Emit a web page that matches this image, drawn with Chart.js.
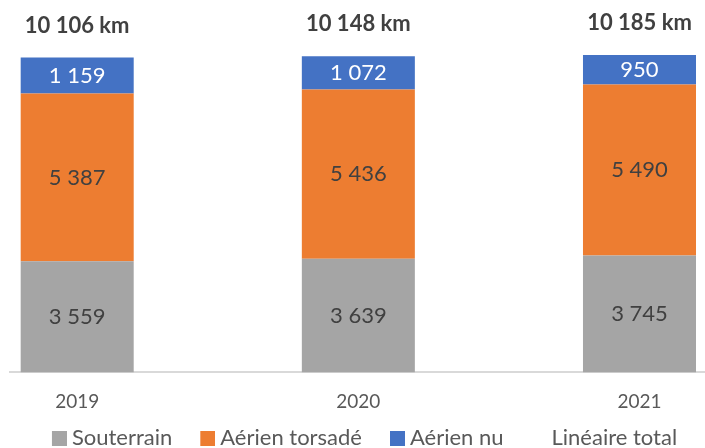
<!DOCTYPE html>
<html>
<head>
<meta charset="utf-8">
<script src="https://cdn.jsdelivr.net/npm/chart.js@4"></script>
<style>
  html, body { margin: 0; padding: 0; background: #fff; }
</style>
</head>
<body>
<canvas id="chart" width="705" height="448"></canvas>
<script>
const years = ['2019', '2020', '2021'];
const souterrain = [3559, 3639, 3745];
const aerienTorsade = [5387, 5436, 5490];
const aerienNu = [1159, 1072, 950];
const lineaireTotal = [10106, 10148, 10185];

const GRAY = '#A5A5A5', ORANGE = '#ED7D31', BLUE = '#4472C4';
const FONT = 'Lato, "Open Sans", sans-serif';
const TICK_PAD = 18;

// x range in category units, so the bars sit where the cropped excel chart had them
const X_MIN = -0.239, X_MAX = 2.233;

const fmt = (v) => String(v).replace(/\B(?=(\d{3})+(?!\d))/g, ' ');

function swatch(color) {
  const c = document.createElement('canvas');
  c.width = 35;
  c.height = 15;
  if (color) {
    const g = c.getContext('2d');
    g.fillStyle = color;
    g.fillRect(20, 0, 15, 15);
  }
  return c;
}
const swatches = [swatch(GRAY), swatch(ORANGE), swatch(BLUE), swatch(null)];

const barLabels = {
  id: 'barLabels',
  afterDatasetsDraw(chart) {
    const ctx = chart.ctx;
    ctx.save();
    ctx.textAlign = 'center';
    ctx.textBaseline = 'middle';
    chart.data.datasets.forEach((ds, i) => {
      const meta = chart.getDatasetMeta(i);
      meta.data.forEach((el, j) => {
        const v = ds.data[j];
        if (ds.type === 'line') {
          ctx.font = 'bold 22px ' + FONT;
          ctx.fillStyle = '#404040';
          ctx.fillText(fmt(v) + ' km', el.x, el.y - 32);
        } else {
          const p = el.getCenterPoint();
          ctx.font = '22px ' + FONT;
          ctx.fillStyle = ds.labelColor;
          ctx.fillText(fmt(v), p.x, p.y);
        }
      });
    });
    ctx.restore();
  },
};

new Chart(document.getElementById('chart'), {
  type: 'bar',
  data: {
    labels: years,
    datasets: [
      { label: 'Souterrain', data: souterrain, backgroundColor: GRAY, labelColor: '#404040', stack: 'bars' },
      { label: 'Aérien torsadé', data: aerienTorsade, backgroundColor: ORANGE, labelColor: '#404040', stack: 'bars' },
      { label: 'Aérien nu', data: aerienNu, backgroundColor: BLUE, labelColor: '#ffffff', stack: 'bars' },
      {
        type: 'line', label: 'Linéaire total', data: lineaireTotal, stack: 'total',
        borderColor: 'transparent', backgroundColor: 'transparent', pointRadius: 0, showLine: false,
      },
    ],
  },
  options: {
    responsive: false,
    animation: false,
    devicePixelRatio: 1,
    layout: { padding: { left: 10, right: 0, top: 0, bottom: -11 } },
    datasets: { bar: { categoryPercentage: 0.402, barPercentage: 1, clip: false } },
    scales: {
      x: {
        stacked: true,
        offset: false,
        grid: { display: false, drawTicks: false },
        border: { display: true, color: '#D9D9D9', width: 2 },
        ticks: { color: '#595959', font: { family: FONT, size: 19 }, padding: TICK_PAD, autoSkip: false, maxRotation: 0 },
        afterDataLimits: (s) => { s.min = X_MIN; s.max = X_MAX; },
        afterBuildTicks: (s) => {
          s.ticks = years.map((_, i) => ({ value: i }));
          s._startValue = X_MIN;
          s._valueRange = X_MAX - X_MIN;
        },
        // chart.js counts the tick padding twice under the labels; keep it only above them
        afterFit: (s) => { s.height -= TICK_PAD; },
      },
      y: { stacked: true, display: false, min: 0, max: 11950 },
    },
    plugins: {
      tooltip: { enabled: false },
      legend: {
        position: 'bottom',
        labels: {
          color: '#595959',
          font: { family: FONT, size: 22 },
          padding: 14,
          usePointStyle: true,
          pointStyleWidth: 23,
          generateLabels: (chart) =>
            Chart.defaults.plugins.legend.labels.generateLabels(chart).map((item) => ({
              ...item,
              pointStyle: swatches[item.datasetIndex],
            })),
        },
      },
    },
  },
  plugins: [barLabels],
});
</script>
</body>
</html>
